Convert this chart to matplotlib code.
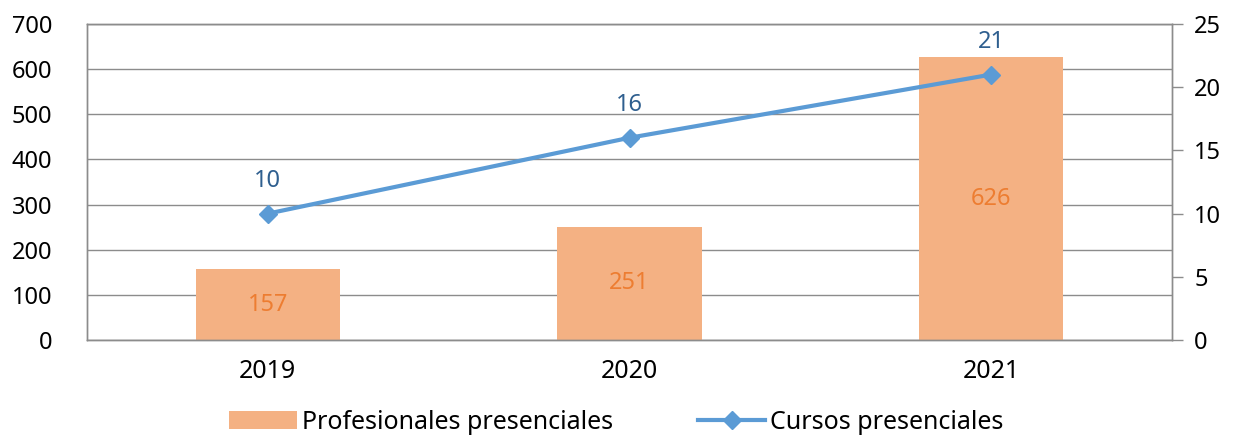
import matplotlib
matplotlib.use("Agg")
from matplotlib import pyplot as plt
from matplotlib.lines import Line2D
from matplotlib.patches import Patch

years = ["2019", "2020", "2021"]
profesionales = [157, 251, 626]
cursos = [10, 16, 21]

bar_color = "#F4B183"
line_color = "#5B9BD5"

plt.rcParams["font.family"] = ["Noto Sans", "DejaVu Sans"]

fig = plt.figure(figsize=(12.33, 4.42), dpi=100)
ax = fig.add_axes([0.0706, 0.2308, 0.8799, 0.7149])
ax2 = ax.twinx()

x = list(range(len(years)))
ax.bar(x, profesionales, width=0.4, color=bar_color, zorder=2)
for xi, v in zip(x, profesionales):
    ax.text(xi, v / 2, str(v), ha="center", va="center", color="#ED7D31", fontsize=17, zorder=3)

ax.set_xlim(-0.5, 2.5)
ax.set_ylim(0, 700)
ax.set_yticks(range(0, 701, 100))
ax.set_xticks(x)
ax.set_xticklabels(years)
ax.yaxis.grid(True, color="#8C8C8C", linewidth=1)
ax.set_axisbelow(True)
ax.tick_params(axis="y", length=0, labelsize=17, pad=25)
ax.tick_params(axis="x", length=0, labelsize=18, pad=14)

ax2.plot(x, cursos, color=line_color, linewidth=3, marker="D", markersize=9, zorder=4)
for xi, v in zip(x, cursos):
    ax2.annotate(str(v), (xi, v), xytext=(0, 15), textcoords="offset points",
                 ha="center", va="bottom", color="#2F5F8F", fontsize=17)
ax2.set_ylim(0, 25)
ax2.set_yticks(range(0, 26, 5))
ax2.tick_params(axis="y", length=8, width=1, color="#8C8C8C", labelsize=17, pad=8)

for a in (ax, ax2):
    for s in a.spines.values():
        s.set_color("#8C8C8C")
        s.set_linewidth(1)

handles = [Patch(facecolor=bar_color, edgecolor="none"),
           Line2D([0], [0], color=line_color, linewidth=3, marker="D", markersize=9)]
fig.legend(handles, ["Profesionales presenciales", "Cursos presenciales"],
           loc="lower center", bbox_to_anchor=(0.5, -0.035), ncol=2, frameon=False,
           fontsize=18, handlelength=2.7, handletextpad=0.2, columnspacing=3.4)

fig.savefig("out.png", dpi=100)
